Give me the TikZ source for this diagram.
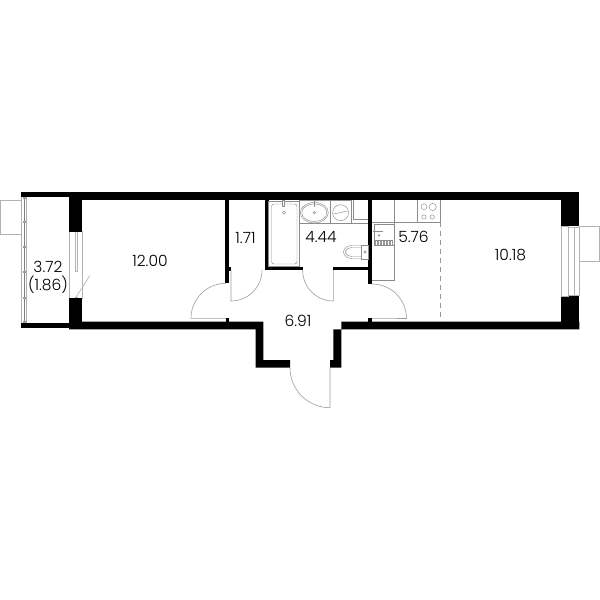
\documentclass[tikz,border=0pt]{standalone}
\usepackage{fontspec}
\setmainfont{Poppins Light}
\tikzset{
  wall/.style={fill=black,draw=none},
  fix/.style={draw=black!45,line width=0.45pt,fill=none},
  glass/.style={draw=black!30,line width=0.9pt,fill=none},
  doorleaf/.style={draw=black!38,line width=0.6pt,fill=none},
  area/.style={font=\fontsize{15.5}{17}\selectfont,text=black,inner sep=0pt,align=center},
}
\begin{document}
\begin{tikzpicture}[x=1pt,y=-1pt]
\useasboundingbox[fill=white] (0,0) rectangle (600,600);
% balcony side glass
\draw[glass] (0.6,200.5) rectangle (21,234);
\draw[glass] (21.7,197) -- (21.7,323.5);
\draw[draw=black!50,line width=0.8pt] (24.2,197) -- (24.2,323.5);
\draw[glass] (26.7,197) -- (26.7,323.5);
\foreach \yy in {197.5,222.3,247,272,298,322}{\fill[black!40] (23,\yy-1) rectangle (26,\yy+1);}
% balcony door and window
\draw[glass,line width=0.6pt] (69.5,231.7) rectangle (82,298.3);
\draw[glass,line width=0.6pt] (75.5,231.7) -- (75.5,271.7) -- (77.5,271.7) -- (77.5,231.7);
\draw[glass,line width=0.6pt] (75.5,298) -- (89.7,275.7);
\fill[black!30] (75,296.5) rectangle (77.5,298.5);
% walls
\fill[wall] (21,192.3) rectangle (69,197.3);
\fill[wall] (21,323.3) rectangle (69,327.7);
\fill[wall] (69,192.3) rectangle (579.3,200.3);
\fill[wall] (69,192.3) rectangle (82.3,231.7);
\fill[wall] (69,298.3) rectangle (82.3,329.3);
\fill[wall] (69,321.7) -- (263.3,321.7) -- (263.3,360) -- (290,360) -- (290,367.7) -- (255.7,367.7) -- (255.7,329.3) -- (69,329.3) -- cycle;
\fill[wall] (579.3,321.7) -- (341.3,321.7) -- (341.3,367.7) -- (330,367.7) -- (330,360) -- (333.3,360) -- (333.3,329.3) -- (579.3,329.3) -- cycle;
\fill[wall] (560.7,192.3) rectangle (579.3,226);
\fill[wall] (560.7,296) rectangle (579.3,329.3);
\fill[wall] (225,200) rectangle (229,283.3);
\fill[wall] (225,266.7) rectangle (231,270.5);
\fill[wall] (226,318.3) rectangle (229,322);
\fill[wall] (265,200) rectangle (268.5,270.3);
\fill[wall] (265,266.7) rectangle (302.7,270.3);
\fill[wall] (333.3,266.7) rectangle (372,270.3);
\fill[wall] (368.3,200) rectangle (372,284);
\fill[wall] (368.3,318.3) rectangle (372,322);
% right window
\draw[glass,line width=0.6pt] (561,226) rectangle (568,296);
\draw[glass,line width=0.7pt] (568.5,227.5) rectangle (579.5,295);
\draw[glass,line width=0.5pt] (574,227.5) -- (574,295);
\draw[glass] (579.5,226.8) rectangle (599.4,261);
% doors
\draw[doorleaf] (226,283.3) arc[start angle=-90,end angle=-180,radius=35] -- (226,318.3);
\draw[doorleaf] (231,270) -- (231,301) arc[start angle=90,end angle=0,radius=31] ;
\draw[doorleaf] (333.3,270) -- (333.3,301) arc[start angle=90,end angle=180,radius=30.6];
\draw[doorleaf] (372,284) arc[start angle=-90,end angle=0,radius=34.5] -- (372,318.3);
\draw[doorleaf] (330,367.7) -- (330,407.7) arc[start angle=90,end angle=180,radius=40];
% bathtub
\draw[fix] (268.5,201) rectangle (299,266.7);
\draw[fix,rounded corners=2.5pt] (271.5,204) rectangle (297,264);
\draw[fix] (284,212.7) circle[radius=1.6];
\draw[fix,fill=white] (282.5,200.3) rectangle (284.5,206);
% washbasin
\draw[fix] (299,200.3) rectangle (330,223);
\draw[fix] (314.3,212.7) ellipse[x radius=14,y radius=10.2];
\draw[fix] (314.3,212.7) ellipse[x radius=12.5,y radius=8.8];
\draw[fix] (314.3,212.7) circle[radius=1.2];
\draw[fix] (314.3,200.3) -- (314.3,207);
% washing machine
\draw[fix] (330,200.3) rectangle (351.7,223);
\draw[fix] (340.6,212.7) circle[radius=8];
\draw[fix] (333.5,214) -- (347.5,211);
% cabinet
\draw[fix] (353.3,200.3) -- (353.3,219) -- (368.3,219);
\draw[fix] (351.7,223) -- (368.3,223);
% toilet
\draw[fix,rounded corners=3pt] (361.7,245.5) -- (349,245.5) -- (343.5,249) -- (343.5,255) -- (349,258.5) -- (361.7,258.5);
\draw[fix,rounded corners=2.5pt] (361,247.5) -- (350,247.5) -- (345.5,250) -- (345.5,254) -- (350,256.5) -- (361,256.5);
\draw[fix] (361.7,245) rectangle (368.3,259);
\draw[fix] (365,252) circle[radius=1.3];
% kitchen
\draw[fix] (372,222.3) -- (440.7,222.3);
\draw[fix] (394.7,200.3) -- (394.7,280.7) -- (372,280.7);
\draw[fix] (417.3,200.3) -- (417.3,222.3);
\draw[fix] (440.7,200.3) -- (440.7,222.3);
\draw[fix] (374,224.5) rectangle (394,245);
\draw[fix] (374.8,240) -- (393.2,240);
\foreach \xx in {375.5,377,...,393}{\draw[draw=black!40,line width=0.3pt] (\xx,240.5) -- (\xx,244.5);}
\draw[fix] (373,231.5) -- (383,231.5);
\draw[fix] (379,235.5) circle[radius=0.8];
\draw[fix] (424,206.7) circle[radius=3];
\draw[fix] (432.7,207) circle[radius=3.6];
\draw[fix] (424,217) circle[radius=2.2];
\draw[fix] (432.3,217) circle[radius=2.2];
\draw[draw=black!40,line width=0.5pt,dash pattern=on 5pt off 4pt] (440.7,222.3) -- (440.7,321.7);
% areas
\node[area] (a1) at (48,267) {3.72};
\node[area] (a2) at (48,285) {(1.86)};
\node[area] (a3) at (150,261) {12.00};
\node[area] (a4) at (245.5,238) {1.71};
\node[area] (a5) at (321,237) {4.44};
\node[area] (a6) at (413.5,237) {5.76};
\node[area] (a7) at (510.5,255) {10.18};
\node[area] (a8) at (298,321) {6.91};
\end{tikzpicture}
\end{document}
